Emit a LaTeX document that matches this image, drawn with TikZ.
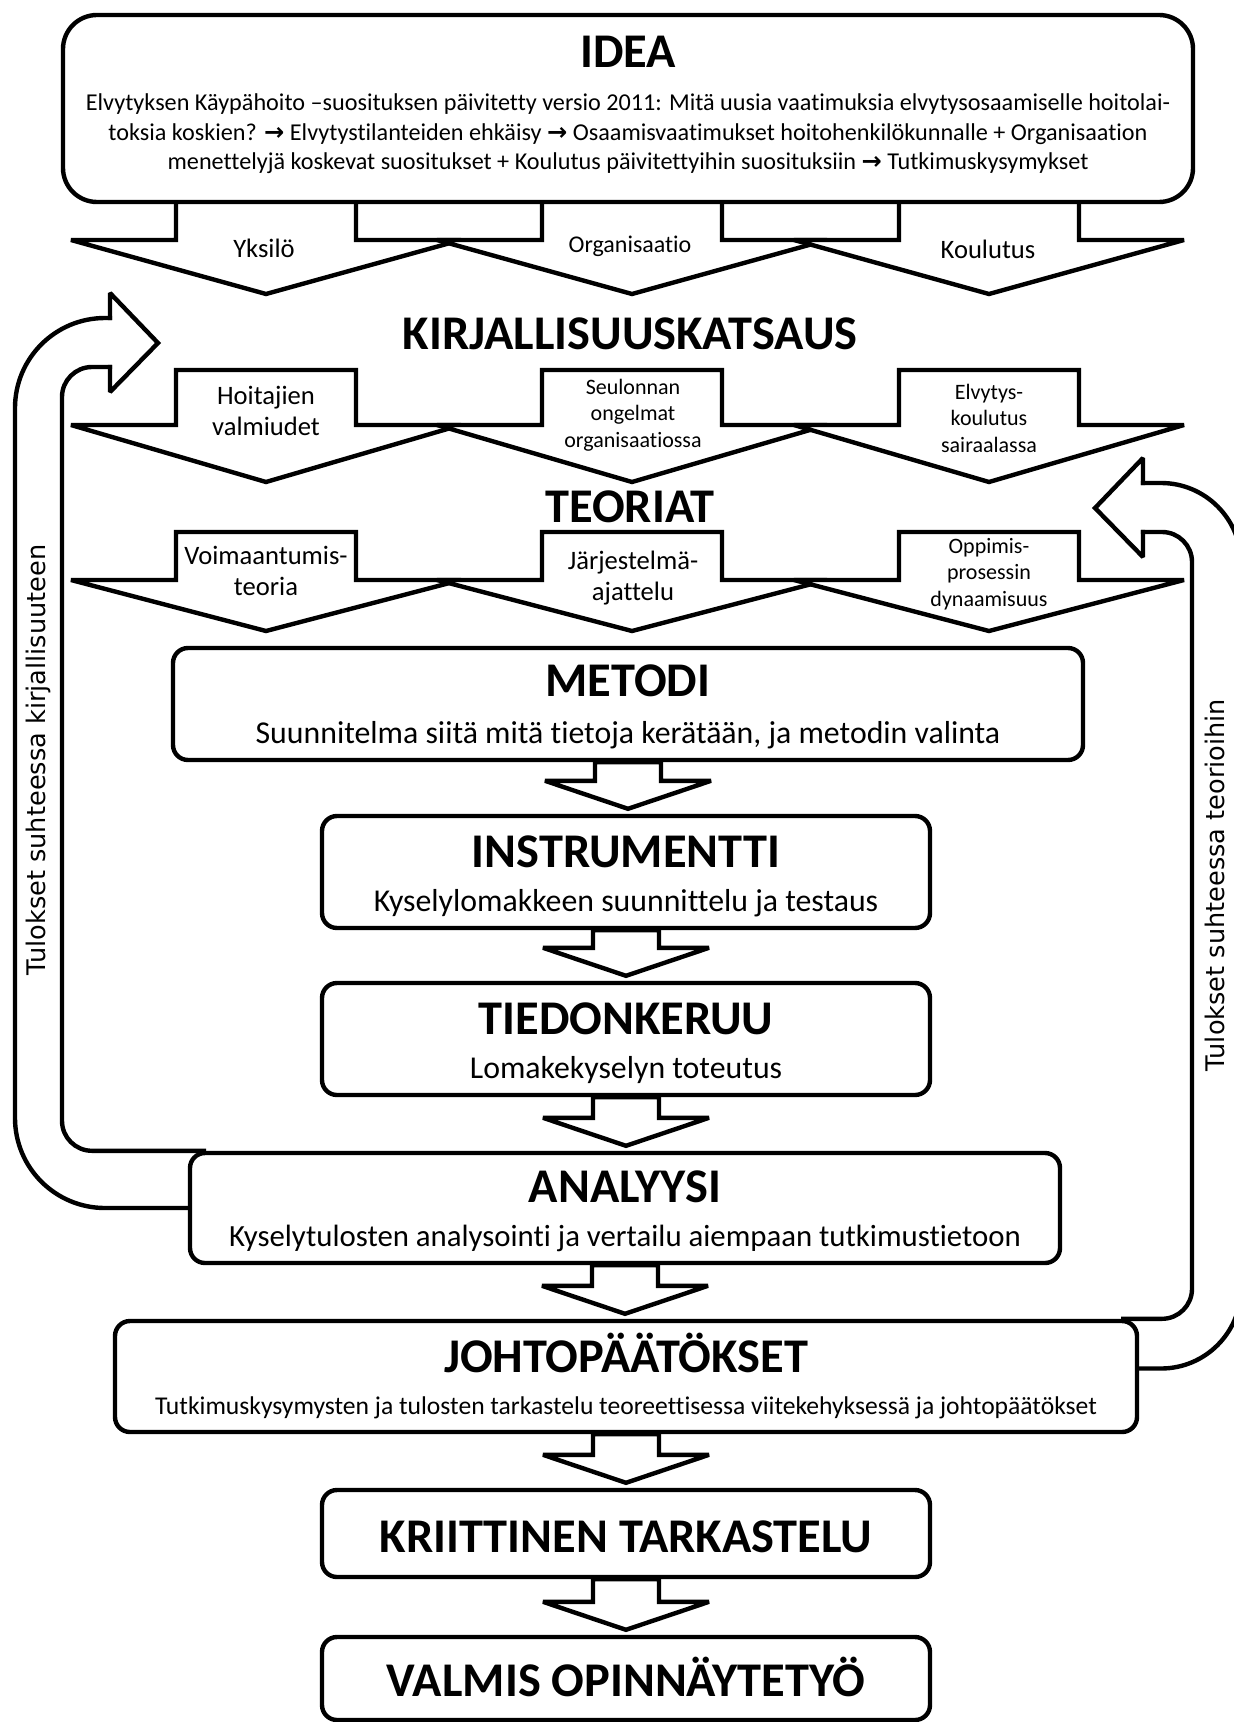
\documentclass[tikz,border=0pt]{standalone}
\usepackage{fontspec}
\setmainfont{Carlito}[Ligatures=NoCommon]
\newfontfamily\sidefont{DejaVu Sans}
\usetikzlibrary{calc}

\begin{document}
\begin{tikzpicture}[x=0.5pt, y=-0.5pt, line width=2.2pt, miter limit=2,
	stagebox/.style={draw, fill=white, rounded corners=7.5pt, inner sep=0pt},
	rowarrow/.style={draw, fill=white},
	band/.style={line cap=rect},
	titletxt/.style={anchor=base, font=\fontsize{24.2}{28}\selectfont\bfseries},
	subtxt/.style={anchor=base, font=\fontsize{15.9}{18}\selectfont},
	arrowlbl/.style={align=center, font=\fontsize{13.3}{15.5}\selectfont},
	smalllbl/.style={align=center, font=\fontsize{11}{13.25}\selectfont},
	sidetxt/.style={rotate=90, font=\sidefont\fontsize{12.8}{15}\selectfont},
	flowarrow/.style={draw, fill=white,
		to path={let \p1=(\tikztostart.south), \p2=(\tikztotarget.north) in
			(\x1-16.5pt,\y1) -- (\x1-16.5pt,\y2+16.5pt) -- (\x1-41.5pt,\y2+16.5pt)
			-- (\x1,\y2+2.5pt) -- (\x1+41.5pt,\y2+16.5pt) -- (\x1+16.5pt,\y2+16.5pt)
			-- (\x1+16.5pt,\y1) -- cycle}}]

		\useasboundingbox (0,0) rectangle (1233,1722);

		% arrows out of the idea box
		\draw[rowarrow] (176,190) -- ++(0,50) -- ++(-105,0) -- ++(195,54) -- ++(195,-54) -- ++(-105,0) -- ++(0,-50) -- cycle;
		\draw[rowarrow] (542,190) -- ++(0,50) -- ++(-105,0) -- ++(195,54) -- ++(195,-54) -- ++(-105,0) -- ++(0,-50) -- cycle;
		\draw[rowarrow] (899,190) -- ++(0,50) -- ++(-105,0) -- ++(195,54) -- ++(195,-54) -- ++(-105,0) -- ++(0,-50) -- cycle;

		\node[stagebox, rounded corners=17pt, minimum width=565pt, minimum height=93.5pt] (idea) at (628,108.5) {};
		\node[titletxt] (ideattl) at (628,68) {IDEA};
		\node[align=center, font=\fontsize{12.1}{14.75}\selectfont] (ideatxt) at (628,134)
			{Elvytyksen Käypähoito –suosituksen päivitetty versio 2011: Mitä uusia vaatimuksia elvytysosaamiselle hoitolai-\\
			toksia koskien? {\sidefont\bfseries →} Elvytystilanteiden ehkäisy {\sidefont\bfseries →} Osaamisvaatimukset hoitohenkilökunnalle + Organisaation\\
			menettelyjä koskevat suositukset + Koulutus päivitettyihin suosituksiin {\sidefont\bfseries →} Tutkimuskysymykset};

		\node[arrowlbl] (yksilo) at (264,248) {Yksilö};
		\node[arrowlbl, font=\fontsize{12}{14}\selectfont] (organisaatio) at (630,246) {Organisaatio};
		\node[arrowlbl] (koulutus) at (988,249) {Koulutus};

		% kirjallisuus
		\node[titletxt] (kirjallisuus) at (630,350) {KIRJALLISUUSKATSAUS};
		\draw[rowarrow] (176,370) -- ++(0,55) -- ++(-105,0) -- ++(195,57) -- ++(195,-57) -- ++(-105,0) -- ++(0,-55) -- cycle;
		\draw[rowarrow] (542,370) -- ++(0,55) -- ++(-105,0) -- ++(195,57) -- ++(195,-57) -- ++(-105,0) -- ++(0,-55) -- cycle;
		\draw[rowarrow] (899,370) -- ++(0,55) -- ++(-105,0) -- ++(195,57) -- ++(195,-57) -- ++(-105,0) -- ++(0,-55) -- cycle;
		\node[arrowlbl] (hoitajat) at (266,411) {Hoitajien\\valmiudet};
		\node[smalllbl] (seulonta) at (633,415) {Seulonnan\\ongelmat\\organisaatiossa};
		\node[smalllbl] (elvytys) at (989,418) {Elvytys-\\koulutus\\sairaalassa};

		% teoriat
		\node[titletxt] (teoriat) at (630,522) {TEORIAT};
		\draw[rowarrow] (176,532) -- ++(0,48) -- ++(-105,0) -- ++(195,51) -- ++(195,-51) -- ++(-105,0) -- ++(0,-48) -- cycle;
		\draw[rowarrow] (542,532) -- ++(0,48) -- ++(-105,0) -- ++(195,51) -- ++(195,-51) -- ++(-105,0) -- ++(0,-48) -- cycle;
		\draw[rowarrow] (899,532) -- ++(0,48) -- ++(-105,0) -- ++(195,51) -- ++(195,-51) -- ++(-105,0) -- ++(0,-48) -- cycle;
		\node[arrowlbl] (voimaantuminen) at (266,571) {Voimaantumis-\\teoria};
		\node[arrowlbl] (jarjestelma) at (633,578) {Järjestelmä-\\ajattelu};
		\node[smalllbl] (oppiminen) at (989,574) {Oppimis-\\prosessin\\dynaamisuus};

		% stages
		\node[stagebox, minimum width=455pt, minimum height=56pt] (metodi) at (628,704) {};
		\node[stagebox, minimum width=304pt, minimum height=56pt] (instrumentti) at (626,872) {};
		\node[stagebox, minimum width=304pt, minimum height=56pt] (tiedonkeruu) at (626,1039) {};
		\node[stagebox, minimum width=435pt, minimum height=55pt] (analyysi) at (625,1208) {};
		\node[stagebox, minimum width=511pt, minimum height=55.5pt] (johto) at (626,1376.5) {};
		\node[stagebox, minimum width=304pt, minimum height=43.5pt] (kriittinen) at (626,1533.5) {};
		\node[stagebox, minimum width=304pt, minimum height=41.5pt] (valmis) at (626,1678.5) {};

		\node[titletxt] at ([yshift=-25.5pt]metodi.north) {METODI};
		\node[subtxt] at ([yshift=9.6pt]metodi.south) {Suunnitelma siitä mitä tietoja kerätään, ja metodin valinta};
		\node[titletxt] at ([yshift=-26.6pt]instrumentti.north) {INSTRUMENTTI};
		\node[subtxt] at ([yshift=9.6pt]instrumentti.south) {Kyselylomakkeen suunnittelu ja testaus};
		\node[titletxt] at ([yshift=-26.6pt]tiedonkeruu.north) {TIEDONKERUU};
		\node[subtxt] at ([yshift=9.6pt]tiedonkeruu.south) {Lomakekyselyn toteutus};
		\node[titletxt] at ([yshift=-26pt]analyysi.north) {ANALYYSI};
		\node[subtxt, font=\fontsize{15.4}{18}\selectfont] at ([yshift=9.6pt]analyysi.south) {Kyselytulosten analysointi ja vertailu aiempaan tutkimustietoon};
		\node[titletxt] at ([yshift=-26.6pt]johto.north) {JOHTOPÄÄTÖKSET};
		\node[subtxt, font=\fontsize{12.8}{14}\selectfont] at ([yshift=10pt]johto.south) {Tutkimuskysymysten ja tulosten tarkastelu teoreettisessa viitekehyksessä ja johtopäätökset};
		\node[titletxt] at ([yshift=-9.5pt]kriittinen.center) {KRIITTINEN TARKASTELU};
		\node[titletxt] at ([yshift=-9pt]valmis.center) {VALMIS OPINNÄYTETYÖ};

		\draw[flowarrow] (metodi) to (instrumentti);
		\draw[flowarrow] (instrumentti) to (tiedonkeruu);
		\draw[flowarrow] (tiedonkeruu) to (analyysi);
		\draw[flowarrow] (analyysi) to (johto);
		\draw[flowarrow] (johto) to (kriittinen);
		\draw[flowarrow] (kriittinen) to (valmis);

		% feedback to the literature
		\draw[band, rounded corners=45pt] (analyysi.west) -- (analyysi.west -| 15,0) -- (15,318) -- (110,318);
		\draw[band] (110,318) -- (110,293) -- (158,343) -- (110,392) -- (110,367);
		\draw[band, rounded corners=15pt] (110,367) -- (62,367) -- (62,0 |- analyysi.north west) -- ([xshift=8pt]analyysi.north west);
		\node[sidetxt] (kirjnote) at (38,760) {Tulokset suhteessa kirjallisuuteen};

		% feedback to the theories
		\coordinate (johtoout) at ([yshift=4pt]johto.east);
		\draw[band, rounded corners=15pt] ([xshift=-8pt]johto.north east) -- (1192,0 |- johto.north east) -- (1192,532) -- (1143,532);
		\draw[band] (1143,532) -- (1143,557) -- (1095,508) -- (1143,458) -- (1143,483);
		\draw[band, rounded corners=40pt] (1143,483) -- (1241,483) -- (1241,0 |- johtoout) -- (johtoout);
		\node[sidetxt] (teorianote) at (1215,885) {Tulokset suhteessa teorioihin};
	\end{tikzpicture}
\end{document}
